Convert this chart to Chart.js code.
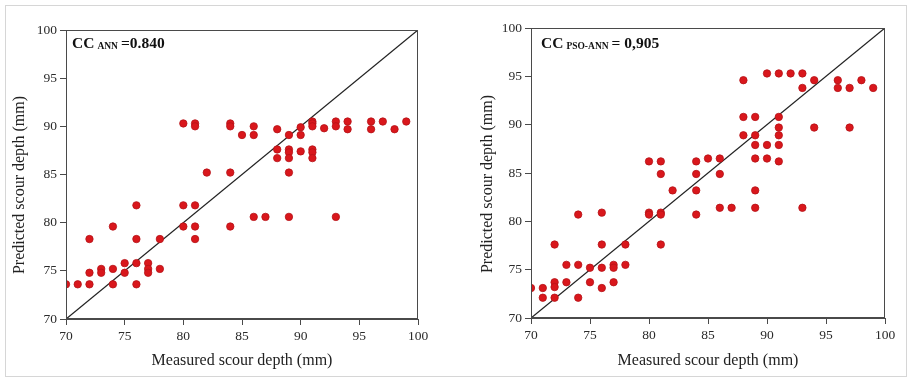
<!DOCTYPE html>
<html>
<head>
<meta charset="utf-8">
<script src="https://cdn.jsdelivr.net/npm/chart.js@4.4.1/dist/chart.umd.min.js"></script>
<style>
  html, body { margin: 0; padding: 0; background: #fff; }
  #page { position: relative; width: 911px; height: 381px; overflow: hidden; }
  #frame { position: absolute; left: 5px; top: 5px; width: 900px; height: 370px; border: 1px solid #d6d6d6; }
  .box { position: absolute; top: 0; height: 381px; }
  #boxAnn { left: 0; width: 455px; }
  #boxPso { left: 455px; width: 456px; }
</style>
</head>
<body>
<div id="page">
  <div id="frame"></div>
  <div class="box" id="boxAnn"><canvas id="chartAnn"></canvas></div>
  <div class="box" id="boxPso"><canvas id="chartPso"></canvas></div>
</div>
<script>
// ── DATA ─────────────────────────────────────────────────────────────────────
// ANN model: measured vs predicted scour depth (mm)
var annMeasured = [
  70, 71, 72, 72, 72, 73, 73, 74, 74, 74, 75, 75, 76, 76, 76, 76, 77, 77, 77, 78, 78,
  80, 80, 80, 81, 81, 81, 81, 81, 82, 84, 84, 84, 84, 85, 86, 86, 86, 87,
  88, 88, 88, 89, 89, 89, 89, 89, 89, 90, 90, 90,
  91, 91, 91, 91, 91, 91, 92, 93, 93, 93, 94, 94, 96, 96, 97, 98, 99
];
var annPredicted = [
  73.6, 73.6, 78.3, 74.8, 73.6, 75.2, 74.8, 79.6, 75.2, 73.6, 75.8, 74.8, 81.8, 78.3, 75.8, 73.6, 75.8, 75.2, 74.8, 78.3, 75.2,
  90.3, 81.8, 79.6, 90.3, 90.0, 81.8, 79.6, 78.3, 85.2, 90.3, 90.0, 85.2, 79.6, 89.1, 90.0, 89.1, 80.6, 80.6,
  89.7, 87.6, 86.7, 89.1, 87.6, 87.3, 86.7, 85.2, 80.6, 89.9, 89.1, 87.4,
  90.5, 90.3, 90.0, 87.6, 87.3, 86.7, 89.8, 90.5, 90.0, 80.6, 90.5, 89.7, 90.5, 89.7, 90.5, 89.7, 90.5
];

// PSO-ANN model: measured vs predicted scour depth (mm)
var psoMeasured = [
  70, 71, 71, 72, 72, 72, 72, 73, 73, 74, 74, 74, 75, 75, 76, 76, 76, 76, 77, 77, 77, 78, 78,
  80, 80, 80, 81, 81, 81, 81, 81, 82, 84, 84, 84, 84, 85, 86, 86, 86, 87,
  88, 88, 88, 89, 89, 89, 89, 89, 89, 90, 90, 90,
  91, 91, 91, 91, 91, 91, 92, 93, 93, 93, 94, 94, 96, 96, 97, 97, 98, 99
];
var psoPredicted = [
  73.1, 73.1, 72.1, 77.6, 73.7, 73.2, 72.1, 75.5, 73.7, 80.7, 75.5, 72.1, 75.2, 73.7, 80.9, 77.6, 75.2, 73.1, 75.5, 75.2, 73.7, 77.6, 75.5,
  86.2, 80.9, 80.7, 86.2, 84.9, 80.9, 80.7, 77.6, 83.2, 86.2, 84.9, 83.2, 80.7, 86.5, 86.5, 84.9, 81.4, 81.4,
  94.6, 90.8, 88.9, 90.8, 88.9, 87.9, 86.5, 83.2, 81.4, 95.3, 87.9, 86.5,
  95.3, 90.8, 89.7, 88.9, 87.9, 86.2, 95.3, 95.3, 93.8, 81.4, 94.6, 89.7, 94.6, 93.8, 93.8, 89.7, 94.6, 93.8
];

var axisMin = 70;
var axisMax = 100;
var axisStep = 5;

var xTitle = 'Measured scour depth (mm)';
var yTitle = 'Predicted scour depth (mm)';

// ── HELPERS ──────────────────────────────────────────────────────────────────
var SERIF = '"Liberation Serif", "DejaVu Serif", serif';
var INK = '#2a2a2a';

function toPoints(xs, ys) {
  return xs.map(function(x, i) { return { x: x, y: ys[i] }; });
}

// box around the plot area
var frameBox = {
  id: 'frameBox',
  afterDatasetsDraw: function(chart) {
    var a = chart.chartArea, ctx = chart.ctx;
    ctx.save();
    ctx.strokeStyle = '#4a4a4a';
    ctx.lineWidth = 1;
    ctx.strokeRect(a.left + 0.5, a.top + 0.5, a.right - a.left - 1, a.bottom - a.top - 1);
    ctx.restore();
  }
};

// vertical axis title, sits a little below the plot's middle like the original
function yTitleDraw(x, cy) {
  return {
    id: 'yTitleDraw',
    afterDraw: function(chart) {
      var ctx = chart.ctx;
      ctx.save();
      ctx.translate(x, cy);
      ctx.rotate(-Math.PI / 2);
      ctx.fillStyle = '#222';
      ctx.font = '16px ' + SERIF;
      ctx.textAlign = 'center';
      ctx.textBaseline = 'middle';
      ctx.fillText(yTitle, 0, 0);
      ctx.restore();
    }
  };
}

// "CC <sub> = value" label in the top-left corner of the plot
function ccLabel(sub, value, dx, dy) {
  return {
    id: 'ccLabel',
    afterDraw: function(chart) {
      var a = chart.chartArea, ctx = chart.ctx;
      var x = a.left + dx, y = a.top + dy;
      ctx.save();
      ctx.fillStyle = '#111';
      ctx.textBaseline = 'alphabetic';
      ctx.textAlign = 'left';
      ctx.font = 'bold 15.5px ' + SERIF;
      ctx.fillText('CC', x, y);
      x += ctx.measureText('CC').width + 3;
      ctx.font = 'bold 9.5px ' + SERIF;
      ctx.fillText(sub, x, y + 1);
      x += ctx.measureText(sub).width + 3;
      ctx.font = 'bold 15.5px ' + SERIF;
      ctx.fillText(value, x, y);
      ctx.restore();
    }
  };
}

function makeChart(canvasId, xs, ys, opts) {
  var canvas = document.getElementById(canvasId);
  return new Chart(canvas, {
    type: 'scatter',
    data: {
      datasets: [
        {
          type: 'line',
          label: '1:1',
          data: [{ x: axisMin, y: axisMin }, { x: axisMax, y: axisMax }],
          borderColor: '#222',
          borderWidth: 1.3,
          pointRadius: 0,
          fill: false,
          tension: 0,
          order: 2
        },
        {
          type: 'scatter',
          label: 'points',
          data: toPoints(xs, ys),
          backgroundColor: '#d9171c',
          borderColor: '#b51217',
          borderWidth: 0.8,
          pointRadius: 3.7,
          order: 1
        }
      ]
    },
    options: {
      responsive: true,
      maintainAspectRatio: false,
      animation: false,
      layout: { padding: opts.padding },
      plugins: {
        legend: { display: false },
        tooltip: { enabled: false }
      },
      scales: {
        x: {
          type: 'linear',
          min: axisMin,
          max: axisMax,
          afterFit: function(s) { s.height = opts.xHeight; },
          ticks: { stepSize: axisStep, color: INK, padding: 3, font: { family: SERIF, size: 13.5 } },
          grid: { drawOnChartArea: false, drawTicks: true, tickLength: 6, color: '#4a4a4a' },
          border: { color: '#4a4a4a' },
          title: {
            display: true, text: xTitle, color: '#222',
            font: { family: SERIF, size: 16 }, padding: { top: 0, bottom: 11 }
          }
        },
        y: {
          type: 'linear',
          min: axisMin,
          max: axisMax,
          afterFit: function(s) { s.width = opts.yWidth; },
          ticks: { stepSize: axisStep, color: INK, padding: 3, font: { family: SERIF, size: 13.5 } },
          grid: { drawOnChartArea: false, drawTicks: true, tickLength: 6, color: '#4a4a4a' },
          border: { color: '#4a4a4a' },
          title: { display: false }
        }
      }
    },
    plugins: [frameBox, opts.label, opts.yTitle]
  });
}

// ── CHARTS ───────────────────────────────────────────────────────────────────
makeChart('chartAnn', annMeasured, annPredicted, {
  padding: { top: 30, right: 37, left: 0, bottom: 0 },
  xHeight: 62,
  yWidth: 66,
  yTitle: yTitleDraw(20, 185),
  label: ccLabel('ANN', '=0.840', 6, 18)
});

makeChart('chartPso', psoMeasured, psoPredicted, {
  padding: { top: 28, right: 26, left: 0, bottom: 0 },
  xHeight: 63,
  yWidth: 76,
  yTitle: yTitleDraw(33, 184),
  label: ccLabel('PSO-ANN', '= 0,905', 10, 20)
});
</script>
</body>
</html>
